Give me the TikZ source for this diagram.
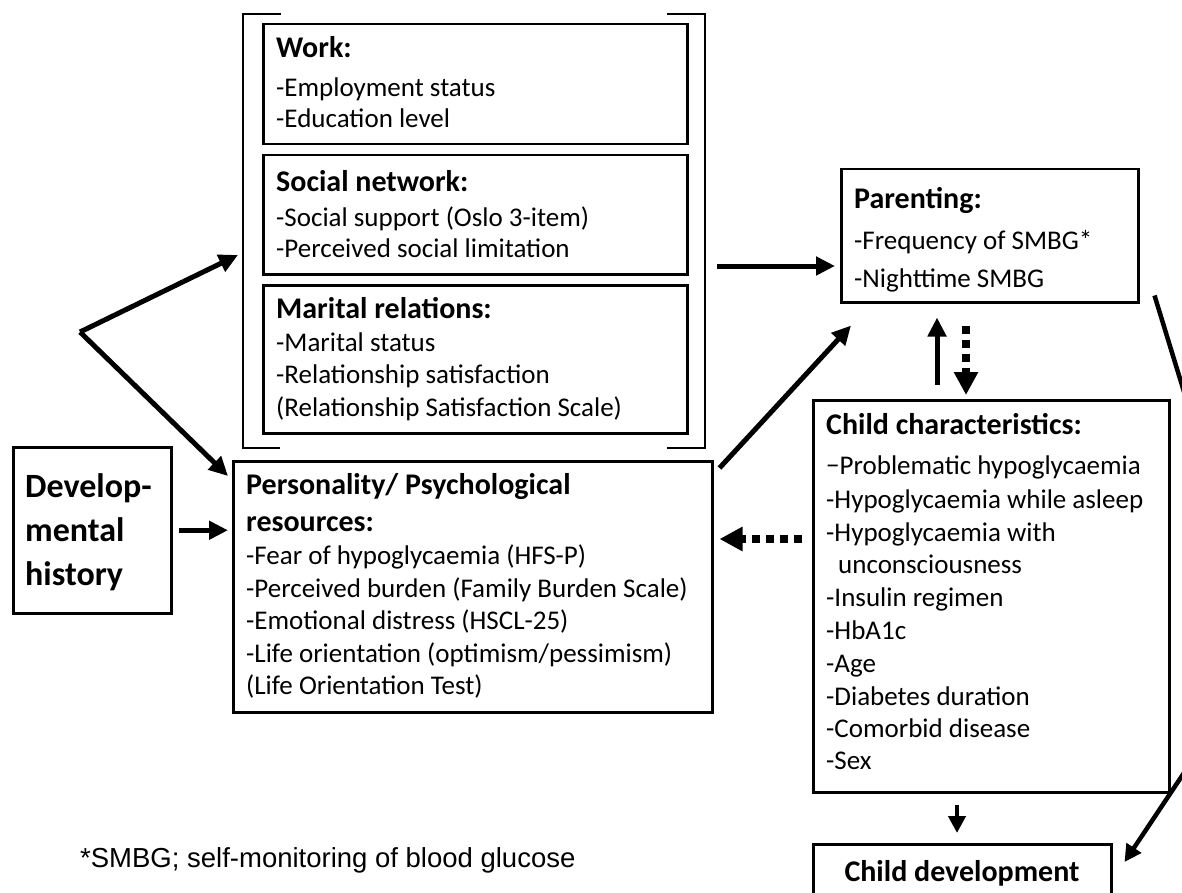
\documentclass[tikz,border=0pt]{standalone}
\usepackage{fontspec}
\setmainfont{Carlito}
\newfontfamily\arialf{Liberation Sans}
\usetikzlibrary{arrows.meta,calc}
\tikzset{
  box/.style={draw, line width=2.5pt, inner sep=0pt, anchor=north west},
  hd/.style={anchor=base west, inner sep=0pt, font=\fontsize{30}{36}\bfseries\selectfont},
  tx/.style={anchor=base west, inner sep=0pt, font=\fontsize{27}{32}\selectfont},
  big/.style={anchor=base west, inner sep=0pt, font=\fontsize{34}{41}\bfseries\selectfont},
  brk/.style={line width=2.5pt},
  arr/.style={line width=5pt, -{Triangle[length=19pt,width=18pt]}},
  arrs/.style={line width=4.5pt, -{Triangle[length=17pt,width=17pt]}},
  darr/.style={line width=8pt, dash pattern=on 8pt off 6pt, -{Triangle[length=23pt,width=23pt]}},
}
\begin{document}
\begin{tikzpicture}[x=1pt,y=-1pt]
\useasboundingbox (0,0) rectangle (1182,893);
\clip (0,0) rectangle (1182,893);
\fill[white] (0,0) rectangle (1182,893);

% bracket
\coordinate (bLt) at (243,14);
\coordinate (bLb) at (243,448);
\coordinate (bRt) at (705,14);
\coordinate (bRb) at (705,448);
\draw[brk] ($(bLt)+(38,0)$) -- (bLt) -- (bLb) -- ($(bLb)+(37,0)$);
\draw[brk] ($(bRt)+(-38,0)$) -- (bRt) -- (bRb) -- ($(bRb)+(-38,0)$);

% boxes
\node[box, minimum width=424pt, minimum height=120pt] (work) at (262,23) {};
\node[box, minimum width=424pt, minimum height=119pt] (social) at (262,154) {};
\node[box, minimum width=424pt, minimum height=148pt] (marital) at (262,284) {};
\node[box, minimum width=479pt, minimum height=251pt] (pers) at (232,460) {};
\node[box, minimum width=158pt, minimum height=166pt] (dev) at (12,446) {};
\node[box, minimum width=297pt, minimum height=133pt] (par) at (840,168) {};
\node[box, minimum width=356pt, minimum height=392pt] (chc) at (812,399) {};
\node[box, minimum width=298pt, minimum height=80pt] (cdev) at (812,843) {};

% texts
\node[hd] (w0) at (276,58) {Work:};
\node[tx] (w1) at (276,97) {-Employment status};
\node[tx] (w2) at (276,128) {-Education level};

\node[hd] (s0) at (276,192) {Social network:};
\node[tx] (s1) at (276,227) {-Social support (Oslo 3-item)};
\node[tx] (s2) at (276,258) {-Perceived social limitation};

\node[hd] (m0) at (276,318) {Marital relations:};
\node[tx] (m1) at (276,351) {-Marital status};
\node[tx] (m2) at (276,383) {-Relationship satisfaction};
\node[tx] (m3) at (276,416) {(Relationship Satisfaction Scale)};

\node[hd] (p0) at (854,209) {Parenting:};
\node[tx] (p1) at (854,250) {-Frequency of SMBG*};
\node[tx] (p2) at (854,287) {-Nighttime SMBG};

\node[hd] (q0) at (246,494) {Personality/ Psychological};
\node[hd] (q1) at (246,531) {resources:};
\node[tx] (q2) at (246,564) {-Fear of hypoglycaemia (HFS-P)};
\node[tx] (q3) at (246,597) {-Perceived burden (Family Burden Scale)};
\node[tx] (q4) at (246,629) {-Emotional distress (HSCL-25)};
\node[tx] (q5) at (246,662) {-Life orientation (optimism/pessimism)};
\node[tx] (q6) at (246,694) {(Life Orientation Test)};

\node[big] (d0) at (25,497) {Develop-};
\node[big] (d1) at (25,541) {mental};
\node[big] (d2) at (25,585) {history};

\node[hd] (c0) at (826,434) {Child characteristics:};
\node[tx] (c1) at (826,474) {−Problematic hypoglycaemia};
\node[tx] (c2) at (826,508) {-Hypoglycaemia while asleep};
\node[tx] (c3) at (826,541) {-Hypoglycaemia with};
\node[tx] (c4) at (838,573) {unconsciousness};
\node[tx] (c5) at (826,606) {-Insulin regimen};
\node[tx] (c6) at (826,639) {-HbA1c};
\node[tx] (c7) at (826,672) {-Age};
\node[tx] (c8) at (826,705) {-Diabetes duration};
\node[tx] (c9) at (826,737) {-Comorbid disease};
\node[tx] (c10) at (826,769) {-Sex};

\node[hd, anchor=base] (cd0) at (962,881) {Child development};

\node[anchor=base west, inner sep=0pt, font=\arialf\fontsize{27.5}{32}\selectfont] (foot) at (80,867) {*SMBG; self-monitoring of blood glucose};

% connectors
\coordinate (fork) at (80,332);
\coordinate (pin) at (228,476);
\draw[arr] (fork) -- ($(bLt)+(-5,241)$);
\draw[arr] (fork) -- (pin);
\draw[arr, shorten <=6pt, shorten >=4pt] (dev.east) -- (dev.east -| pers.west);
\draw[arr] ($(bRt)+(12,252)$) -- ($(par.north west)+(-5,98)$);
\draw[arr] ($(pers.north east)+(6,8)$) -- ($(par.south west)+(11,22)$);
\draw[arr] ($(chc.north west)+(125,-14)$) -- ($(par.south west)+(97,14)$);
\draw[darr] ($(par.south west)+(126,22)$) -- ($(chc.north west)+(154,-4)$);
\draw[darr] ($(chc.north west)+(-10,140)$) -- ($(pers.north east)+(6,79)$);
\draw[arrs] ($(chc.south west)+(145,11)$) -- ($(cdev.north west)+(145,-10)$);
\coordinate (corner) at (1264,653);
\draw[arrs] ($(par.south east)+(15,-8)$) -- (corner) -- ($(cdev.north east)+(12,19)$);
\end{tikzpicture}
\end{document}
